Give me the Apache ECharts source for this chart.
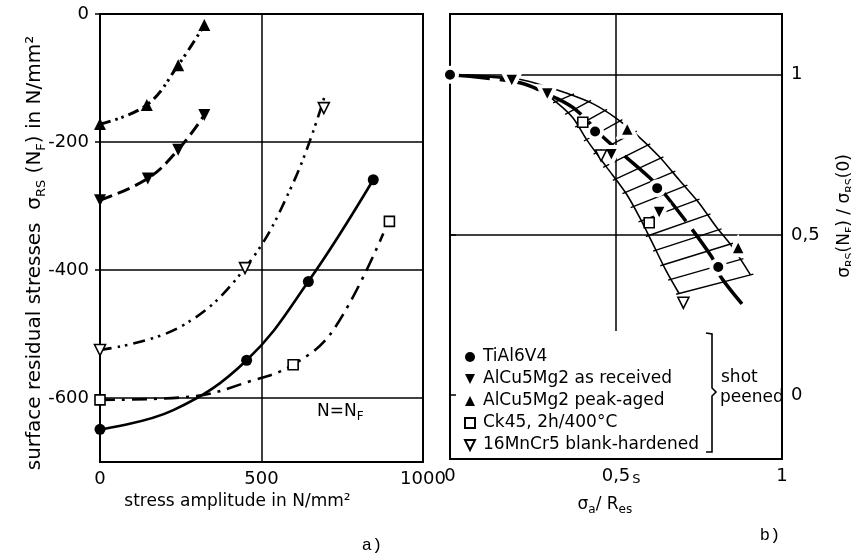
<!DOCTYPE html>
<html><head><meta charset="utf-8">
<script src="https://cdn.jsdelivr.net/npm/echarts@6/dist/echarts.min.js"></script>
<style>html,body{margin:0;padding:0;background:#fff}#c{width:851px;height:558px}</style>
</head><body><div id="c"></div>
<script>
// ---------- tick labels ----------
const aXTicks = [0, 500, 1000];
const aYTicks = [0, -200, -400, -600];
const bXTicks = [0, 0.5, 1];
const bYTicks = [0, 0.5, 1];

// ---------- legend / materials ----------
const materials = ['TiAl6V4', 'AlCu5Mg2 as received', 'AlCu5Mg2 peak-aged', 'Ck45, 2h/400°C', '16MnCr5 blank-hardened'];

// ---------- panel a): measured points [stress amplitude N/mm², residual stress N/mm²] ----------
const aTiAl6V4   = [[0,-649],[454,-541],[645,-418],[846,-259]];
const aAsRec     = [[0,-291],[148,-257],[242,-212],[323,-158]];
const aPeakAged  = [[0,-172],[145,-142],[242,-80],[323,-17]];
const aCk45      = [[0,-603],[598,-548],[896,-324]];
const a16MnCr5   = [[0,-525],[449,-397],[693,-147]];

// ---------- panel a): fitted curves ----------
const cTiAl6V4  = [[0,-649],[227,-619],[454,-541],[645,-418],[846,-259]];
const cAsRec    = [[0,-291],[148,-257],[242,-212],[323,-158]];
const cPeakAged = [[0,-172],[145,-142],[242,-80],[323,-17]];
const cCk45     = [[0,-603],[279,-598],[464,-574],[598,-548],[722,-494],[877,-343]];
const c16MnCr5  = [[0,-525],[248,-489],[449,-397],[598,-264],[697,-126]];

// ---------- panel b): normalised points [σa/Res, σRS(NF)/σRS(0)] ----------
const bTiAl6V4  = [[0,1.0],[0.437,0.823],[0.624,0.646],[0.808,0.40]];
const bAsRec    = [[0.186,0.98],[0.293,0.938],[0.486,0.748],[0.63,0.568]];
const bPeakAged = [[0.534,0.833],[0.868,0.463]];
const bCk45     = [[0.40,0.852],[0.60,0.538]];
const b16MnCr5  = [[0.455,0.748],[0.703,0.288]];

// ---------- panel b): scatter band ----------
const bandOuter = [[0.04,1.0],[0.19,0.99],[0.27,0.97],[0.35,0.943],[0.43,0.91],[0.50,0.865],[0.56,0.815],[0.63,0.745],[0.69,0.672],[0.75,0.60],[0.80,0.528],[0.85,0.463],[0.89,0.40],[0.905,0.375]];
const bandInner = [[0.04,0.997],[0.19,0.984],[0.27,0.95],[0.32,0.915],[0.37,0.866],[0.41,0.80],[0.47,0.714],[0.53,0.63],[0.57,0.557],[0.61,0.474],[0.65,0.39],[0.69,0.317]];
const bandMean  = [[0.0,1.0],[0.21,0.975],[0.32,0.927],[0.38,0.89],[0.47,0.797],[0.60,0.68],[0.653,0.62],[0.788,0.432],[0.815,0.37],[0.883,0.28]];

const FONT = 'DejaVu Sans';
const BLACK = '#000';
const comma = v => String(v).replace('.', ',');
const DOWN = 'path://M0,0L10,0L5,10Z';

function along(pts, t) {
  const L = [0];
  for (let i = 1; i < pts.length; i++) {
    L.push(L[i-1] + Math.hypot(pts[i][0]-pts[i-1][0], pts[i][1]-pts[i-1][1]));
  }
  const target = t * L[L.length-1];
  for (let i = 1; i < pts.length; i++) {
    if (L[i] >= target) {
      const f = (target - L[i-1]) / ((L[i]-L[i-1]) || 1);
      return [pts[i-1][0] + f*(pts[i][0]-pts[i-1][0]), pts[i-1][1] + f*(pts[i][1]-pts[i-1][1])];
    }
  }
  return pts[pts.length-1];
}

const chart = echarts.init(document.getElementById('c'), null, {renderer: 'canvas'});

const axisCommon = {
  axisLine: {show: false},
  splitLine: {show: false}
};

const lineSeries = (name, data, type, width) => ({
  name: name, type: 'line', xAxisIndex: 0, yAxisIndex: 0, data: data,
  smooth: 0.4, showSymbol: false, silent: true, z: 3,
  lineStyle: {color: BLACK, width: width, type: type}
});
const scatter = (name, data, grid, symbol, rotate, filled, size, halo) => ({
  name: name, type: 'scatter', xAxisIndex: grid, yAxisIndex: grid, data: data,
  symbol: symbol, symbolRotate: rotate, symbolSize: size, z: 6, silent: true,
  itemStyle: filled
    ? {color: BLACK, opacity: 1, borderColor: halo ? '#fff' : BLACK, borderWidth: halo ? 4 : 0}
    : {color: '#fff', opacity: 1, borderColor: BLACK, borderWidth: 1.6}
});

const option = {
  animation: false,
  backgroundColor: '#fff',
  grid: [
    {left: 100, top: 14, width: 323, height: 448, show: true, borderColor: BLACK, borderWidth: 2, backgroundColor: 'transparent'},
    {left: 450, top: 14, width: 332, height: 445, show: true, borderColor: BLACK, borderWidth: 2, backgroundColor: 'transparent'}
  ],
  xAxis: [
    Object.assign({}, axisCommon, {
      gridIndex: 0, type: 'value', min: 0, max: 1000, interval: 500,
      axisTick: {show: false},
      axisLabel: {fontFamily: FONT, fontSize: 18, color: BLACK, margin: 8, customValues: aXTicks, formatter: v => String(v)},
      name: 'stress amplitude in N/mm²', nameLocation: 'middle', nameGap: 31,
      nameTextStyle: {fontFamily: FONT, fontSize: 17, color: BLACK, padding: [0, 48, 0, 0]}
    }),
    Object.assign({}, axisCommon, {
      gridIndex: 1, type: 'value', min: 0, max: 1, interval: 0.5,
      axisTick: {show: false},
      axisLabel: {fontFamily: FONT, fontSize: 18, color: BLACK, margin: 8, formatter: comma, customValues: bXTicks},
      name: '{m|σ}{s|a}{m|/ R}{s|es}{p|S}', nameLocation: 'middle', nameGap: 14, nameMoveOverlap: false,
      nameTextStyle: {
        fontFamily: FONT, fontSize: 17, color: BLACK, padding: [0, 14, 0, 0],
        rich: {
          m: {fontFamily: FONT, fontSize: 17, color: BLACK, lineHeight: 20, verticalAlign: 'bottom'},
          s: {fontFamily: FONT, fontSize: 12, color: BLACK, lineHeight: 12, verticalAlign: 'bottom', padding: [0, 0, -3, 0]},
          p: {fontFamily: FONT, fontSize: 13, color: BLACK, lineHeight: 40, verticalAlign: 'top'}
        }
      }
    })
  ],
  yAxis: [
    Object.assign({}, axisCommon, {
      gridIndex: 0, type: 'value', min: -700, max: 0,
      axisTick: {show: true, length: 5, customValues: aYTicks, lineStyle: {color: BLACK, width: 1.5}},
      axisLabel: {fontFamily: FONT, fontSize: 18, color: BLACK, margin: 11, customValues: aYTicks, formatter: v => String(v)}
    }),
    Object.assign({}, axisCommon, {
      gridIndex: 1, type: 'value', position: 'right', min: -0.2, max: 1.19,
      axisTick: {show: true, length: 6, customValues: bYTicks, lineStyle: {color: BLACK, width: 1.5}},
      axisLabel: {fontFamily: FONT, fontSize: 18, color: BLACK, margin: 9, formatter: comma, customValues: bYTicks}
    })
  ],
  legend: {
    data: [
      {name: materials[0], icon: 'circle'},
      {name: materials[1], icon: DOWN},
      {name: materials[2], icon: 'triangle'},
      {name: materials[3], icon: 'rect'},
      {name: materials[4], icon: DOWN}
    ],
    orient: 'vertical', left: 459, top: 342,
    itemWidth: 10, itemHeight: 10, itemGap: 2, selectedMode: false,
    textStyle: {fontFamily: FONT, fontSize: 17, color: BLACK, lineHeight: 20, padding: [0, 0, 0, 3]}
  },
  graphic: [
    {type: 'text', x: 33, y: 253, rotation: Math.PI / 2, silent: true,
     style: {text: '{m|surface residual stresses  σ}{s|RS}{m| (N}{s|F}{m|) in N/mm²}', align: 'center', verticalAlign: 'middle',
       rich: {m: {fontFamily: FONT, fontSize: 20, fill: BLACK, lineHeight: 24, verticalAlign: 'bottom'},
              s: {fontFamily: FONT, fontSize: 13, fill: BLACK, lineHeight: 14, verticalAlign: 'bottom', padding: [0,0,-3,0]}}}},
    {type: 'text', x: 843, y: 216, rotation: Math.PI / 2, silent: true,
     style: {text: '{m|σ}{s|RS}{m|(N}{s|F}{m|) / σ}{s|RS}{m|(0)}', align: 'center', verticalAlign: 'middle',
       rich: {m: {fontFamily: FONT, fontSize: 17, fill: BLACK, lineHeight: 20, verticalAlign: 'bottom'},
              s: {fontFamily: FONT, fontSize: 11, fill: BLACK, lineHeight: 12, verticalAlign: 'bottom', padding: [0,0,-3,0]}}}},
    {type: 'text', x: 317, y: 410, silent: true,
     style: {text: '{m|N=N}{s|F}', align: 'left', verticalAlign: 'middle',
       rich: {m: {fontFamily: FONT, fontSize: 17, fill: BLACK, lineHeight: 20, verticalAlign: 'bottom'},
              s: {fontFamily: FONT, fontSize: 12, fill: BLACK, lineHeight: 12, verticalAlign: 'bottom', padding: [0,0,-3,0]}}}},
    {type: 'polyline', silent: true, shape: {points: [[706,333],[712,334],[712,388],[716,392],[712,396],[712,452],[706,452]]},
     style: {stroke: BLACK, lineWidth: 1.6, fill: null}},
    {type: 'text', x: 721, y: 378, silent: true, style: {text: 'shot', fontFamily: FONT, fontSize: 17, fill: BLACK, align: 'left', verticalAlign: 'middle'}},
    {type: 'text', x: 720, y: 398, silent: true, style: {text: 'peened', fontFamily: FONT, fontSize: 17, fill: BLACK, align: 'left', verticalAlign: 'middle'}},
    {type: 'text', x: 372, y: 545, silent: true, style: {text: 'a)', fontFamily: 'Liberation Mono', fontSize: 17, fill: BLACK, align: 'center', verticalAlign: 'middle'}},
    {type: 'text', x: 770, y: 535, silent: true, style: {text: 'b)', fontFamily: 'Liberation Mono', fontSize: 17, fill: BLACK, align: 'center', verticalAlign: 'middle'}}
  ],
  series: [
    // gridlines panel a
    {type: 'line', xAxisIndex: 0, yAxisIndex: 0, data: [[0, 0]], showSymbol: false, silent: true, z: 1, lineStyle: {width: 0},
     markLine: {silent: true, symbol: ['none','none'], label: {show: false}, animation: false,
       lineStyle: {color: BLACK, type: 'solid', width: 1.5},
       data: aYTicks.filter(v => v !== 0).map(v => ({yAxis: v})).concat([{xAxis: aXTicks[1]}])}},
    // gridlines panel b
    {type: 'line', xAxisIndex: 1, yAxisIndex: 1, data: [[0, 1]], showSymbol: false, silent: true, z: 1, lineStyle: {width: 0},
     markLine: {silent: true, symbol: ['none','none'], label: {show: false}, animation: false,
       lineStyle: {color: BLACK, type: 'solid', width: 1.5},
       data: [{yAxis: bYTicks[2]}, {yAxis: bYTicks[1]}, [{coord: [bXTicks[1], 1.19]}, {coord: [bXTicks[1], 0.2]}]]}},

    // panel a curves
    lineSeries('c1', cTiAl6V4, 'solid', 2.6),
    lineSeries('c2', cAsRec, [13, 6], 3),
    lineSeries('c3', cPeakAged, [11, 5, 2.5, 4, 2.5, 5], 3),
    lineSeries('c4', cCk45, [15, 7, 3, 7], 2.6),
    lineSeries('c5', c16MnCr5, [12, 6, 2.5, 5, 2.5, 6], 2.6),

    // panel a markers
    scatter(materials[0], aTiAl6V4, 0, 'circle', 0, true, 11, false),
    scatter(materials[1], aAsRec, 0, 'triangle', 180, true, 12, false),
    scatter(materials[2], aPeakAged, 0, 'triangle', 0, true, 12, false),
    scatter(materials[3], aCk45, 0, 'rect', 0, false, 10, false),
    scatter(materials[4], a16MnCr5, 0, 'triangle', 180, false, 11, false),

    // panel b band fill + hatching
    {type: 'custom', xAxisIndex: 1, yAxisIndex: 1, data: [[0.5, 0.7]], silent: true, z: 2, clip: false,
     renderItem: function (params, api) {
       const O = bandOuter.map(p => api.coord(p));
       const I = bandInner.map(p => api.coord(p));
       const children = [{type: 'polygon', shape: {points: O.concat(I.slice().reverse())}, style: {fill: '#fff', stroke: null}}];
       const N = 15;
       for (let k = 0; k < N; k++) {
         const t = 0.30 + 0.70 * k / (N - 1);
         const a = along(I, t), b = along(O, t);
         const dx = b[0]-a[0], dy = b[1]-a[1], len = Math.hypot(dx, dy) || 1;
         const ex = 3 * dx / len, ey = 3 * dy / len;
         children.push({type: 'line', shape: {x1: a[0]-ex, y1: a[1]-ey, x2: b[0]+ex, y2: b[1]+ey},
                        style: {stroke: BLACK, lineWidth: 1.4}});
       }
       return {type: 'group', children: children};
     }},
    {name: 'outer', type: 'line', xAxisIndex: 1, yAxisIndex: 1, data: bandOuter, smooth: 0.3, showSymbol: false, silent: true, z: 3,
     lineStyle: {color: BLACK, width: 1.6}},
    {name: 'inner', type: 'line', xAxisIndex: 1, yAxisIndex: 1, data: bandInner, smooth: 0.3, showSymbol: false, silent: true, z: 3,
     lineStyle: {color: BLACK, width: 1.6}},
    {name: 'mean', type: 'line', xAxisIndex: 1, yAxisIndex: 1, data: bandMean, smooth: 0.3, showSymbol: false, silent: true, z: 4,
     lineStyle: {color: BLACK, width: 3.5, type: [40, 10]}},

    // panel b markers
    scatter(materials[0], bTiAl6V4, 1, 'circle', 0, true, 14, true),
    scatter(materials[1], bAsRec, 1, 'triangle', 180, true, 17, true),
    scatter(materials[2], bPeakAged, 1, 'triangle', 0, true, 17, true),
    scatter(materials[3], bCk45, 1, 'rect', 0, false, 10, false),
    scatter(materials[4], b16MnCr5, 1, 'triangle', 180, false, 11, false)
  ]
};
chart.setOption(option);
</script>
</body></html>
